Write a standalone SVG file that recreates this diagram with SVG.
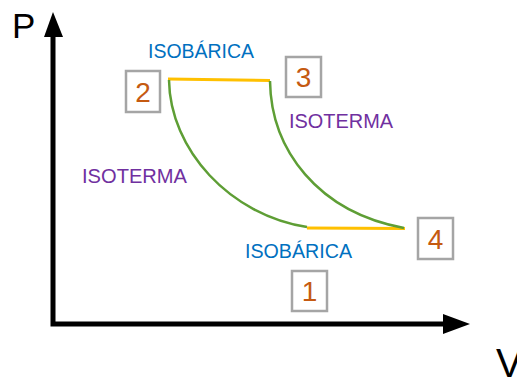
<svg xmlns="http://www.w3.org/2000/svg" width="517" height="378" viewBox="0 0 517 378">
<style>
text{font-family:"Liberation Sans",Arial,sans-serif}
.ax{stroke:#000;stroke-width:5;fill:none}
.ah{fill:#000}
.box{fill:#fff;stroke:#A5A5A5;stroke-width:2.5}
.num{fill:#C55A11;font-size:28px;text-anchor:middle}
.iso{stroke:#FFC000;stroke-width:3;fill:none}
.ter{stroke:#5E9E35;stroke-width:2.5;fill:none}
.blue{fill:#0070C0;font-size:20px}
.purple{fill:#7030A0;font-size:20px}
.axl{fill:#000}
</style>
<g id="axes">
<polyline class="ax" points="53,34 53,324 445,324"/>
<polygon class="ah" points="53,12 44,37 63,37"/>
<polygon class="ah" points="470,324 443,314 443,334"/>
<text class="axl" x="12" y="38" font-size="35">P</text>
<text class="axl" x="496" y="377" font-size="40">V</text>
</g>
<g id="connectors">
<path class="iso" d="M168,79 L270,80.5"/>
<path class="iso" d="M307,228 L405,228.5"/>
<path class="ter" d="M169,80 C170,150 230,215 307,227"/>
<path class="ter" d="M270,81 C271,150 318,212 404,228"/>
</g>
<g id="labels">
<text class="blue" x="148" y="58" textLength="106" lengthAdjust="spacingAndGlyphs">ISOBÁRICA</text>
<text class="blue" x="245" y="258" textLength="107" lengthAdjust="spacingAndGlyphs">ISOBÁRICA</text>
<text class="purple" x="289" y="128" textLength="104" lengthAdjust="spacingAndGlyphs">ISOTERMA</text>
<text class="purple" x="82" y="183" textLength="105" lengthAdjust="spacingAndGlyphs">ISOTERMA</text>
</g>
<g id="node2"><rect class="box" x="126" y="71" width="34" height="41"/><text class="num" x="143" y="101.5">2</text></g>
<g id="node3"><rect class="box" x="286" y="57" width="35" height="40"/><text class="num" x="303.5" y="87">3</text></g>
<g id="node4"><rect class="box" x="418" y="218" width="35" height="41"/><text class="num" x="435.5" y="248.5">4</text></g>
<g id="node1"><rect class="box" x="292" y="271" width="35" height="40"/><text class="num" x="309.5" y="301">1</text></g>
</svg>
